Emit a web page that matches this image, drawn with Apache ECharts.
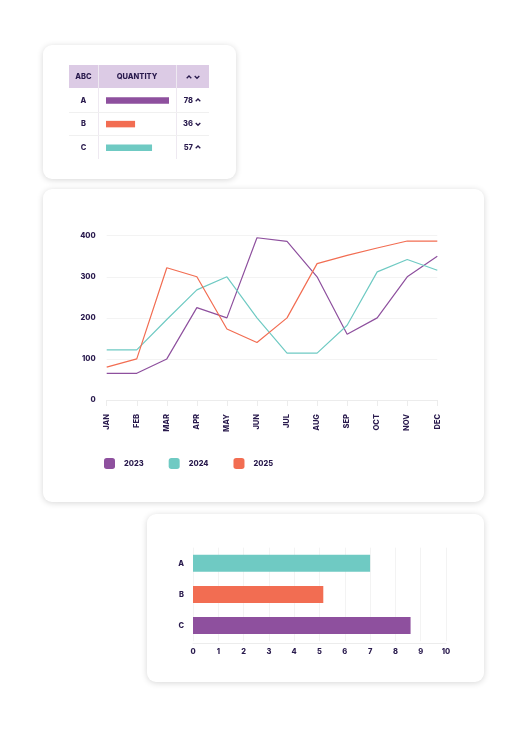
<!DOCTYPE html>
<html lang="en">
  <head>
    <meta charset="UTF-8" />
    <title>Dashboard</title>
    <script src="https://cdn.jsdelivr.net/npm/echarts@6/dist/echarts.min.js"></script>
    <style>
      body {
        margin: 0;
        background: #fff;
        font-family: Inter, "Noto Sans", sans-serif;
        color: #291a4d;
      }
      .card {
        position: absolute;
        background: #fff;
        border-radius: 9px;
        box-shadow: 0 1px 6px rgba(0, 0, 0, 0.16);
      }
      #main {
        position: absolute;
        left: 0;
        top: 0;
        width: 531px;
        height: 730px;
        z-index: 2;
      }
      .t {
        position: absolute;
        font-size: 7.5px;
        font-weight: 800;
        z-index: 3;
        line-height: 10px;
      }
      .ln {
        position: absolute;
        z-index: 1;
      }
      .chev {
        position: absolute;
        z-index: 3;
      }
    </style>
  </head>
  <body>
    <div class="card" style="left: 43px; top: 45px; width: 193px; height: 134px"></div>
    <div class="card" style="left: 43px; top: 189px; width: 441px; height: 313px"></div>
    <div class="card" style="left: 147px; top: 514px; width: 337px; height: 168px"></div>

    <!-- table skeleton -->
    <div class="ln" style="left: 69px; top: 65px; width: 140px; height: 23px; background: #dccbe5"></div>
    <div class="ln" style="left: 98px; top: 65px; width: 1px; height: 94px; background: #eee9f1"></div>
    <div class="ln" style="left: 176px; top: 65px; width: 1px; height: 94px; background: #eee9f1"></div>
    <div class="ln" style="left: 69px; top: 112px; width: 140px; height: 1px; background: #f0f0f0"></div>
    <div class="ln" style="left: 69px; top: 135px; width: 140px; height: 1px; background: #f0f0f0"></div>
    <div id="tbl"></div>

    <div id="main"></div>
    <script>
      // table card
      var tableRows = ["A", "B", "C"];
      var tableValues = [78, 36, 57];
      var tableTrend = ["up", "down", "up"];
      var tableHead = ["ABC", "QUANTITY"];

      // line chart
      var months = ["JAN", "FEB", "MAR", "APR", "MAY", "JUN", "JUL", "AUG", "SEP", "OCT", "NOV", "DEC"];
      var s2023 = [65, 65, 100, 225, 200, 395, 386, 300, 160, 200, 300, 350];
      var s2024 = [122, 122, 196, 268, 300, 200, 114, 114, 182, 312, 342, 316];
      var s2025 = [80, 100, 322, 300, 173, 140, 200, 332, 352, 370, 387, 387];

      // bar chart
      var barCats = ["A", "B", "C"];
      var barValues = [7, 5.15, 8.6];

      var purple = "#8e509e";
      var teal = "#6fcac3";
      var orange = "#f26d52";
      var ink = "#291a4d";

      function chev(x, y, dir) {
        var pts = dir == "up" ? "0.7,3.3 3,1 5.3,3.3" : "0.7,1 3,3.3 5.3,1";
        return (
          '<svg class="chev" style="left:' + x + "px;top:" + y + 'px" width="6" height="5"><polyline points="' +
          pts + '" fill="none" stroke="' + ink + '" stroke-width="1.3"/></svg>'
        );
      }

      var html = "";
      html += '<div class="t" style="left:69px;width:29px;top:72px;text-align:center">' + tableHead[0] + "</div>";
      html += '<div class="t" style="left:98px;width:78px;top:72px;text-align:center">' + tableHead[1] + "</div>";
      html += chev(186, 74.5, "up") + chev(194, 74.5, "down");
      for (var i = 0; i < tableRows.length; i++) {
        var cy = 100.5 + i * 23.6;
        html += '<div class="t" style="left:69px;width:29px;top:' + (cy - 5) + 'px;text-align:center">' + tableRows[i] + "</div>";
        html += '<div class="t" style="left:178px;width:15px;top:' + (cy - 5) + 'px;text-align:right">' + tableValues[i] + "</div>";
        html += chev(195, cy - 2.5, tableTrend[i]);
      }
      document.getElementById("tbl").innerHTML = html;

      var chartDom = document.getElementById("main");
      var myChart = echarts.init(chartDom);
      var lbl = { color: ink, fontSize: 7.5, fontWeight: 800, fontFamily: "Inter" };

      var option = {
        animation: false,
        grid: [
          { left: 106, top: 88.7, width: 63, height: 70.8 },
          { left: 106.7, top: 235.7, width: 330.6, height: 164.3 },
          { left: 193, top: 547.7, width: 253, height: 93.5 },
        ],
        legend: {
          data: ["2023", "2024", "2025"],
          left: 104,
          top: 458,
          padding: 0,
          itemWidth: 11,
          itemHeight: 11,
          itemGap: 25,
          icon: "roundRect",
          textStyle: Object.assign({ padding: [0, 0, 0, 4] }, lbl),
        },
        xAxis: [
          { gridIndex: 0, type: "value", min: 0, max: 78, show: false },
          {
            gridIndex: 1,
            type: "category",
            boundaryGap: false,
            data: months,
            axisLine: { lineStyle: { color: "#ececec" } },
            axisTick: { show: true, length: 6, lineStyle: { color: "#ececec" } },
            axisLabel: Object.assign({ rotate: 90, margin: 14, interval: 0 }, lbl),
            splitLine: { show: false },
          },
          {
            gridIndex: 2,
            type: "value",
            min: 0,
            max: 10,
            interval: 1,
            offset: 2,
            axisLine: { show: true, lineStyle: { color: "#ececec" } },
            axisTick: { show: false },
            axisLabel: Object.assign({ margin: 5 }, lbl),
            splitLine: { lineStyle: { color: "#f3f3f3" } },
          },
        ],
        yAxis: [
          { gridIndex: 0, type: "category", data: tableRows, inverse: true, show: false },
          {
            gridIndex: 1,
            type: "value",
            min: 0,
            max: 400,
            interval: 100,
            axisLine: { show: false },
            axisTick: { show: false },
            axisLabel: Object.assign({ margin: 11, padding: [0, 0, 5, 0] }, lbl),
            splitLine: { lineStyle: { color: "#f3f3f3" } },
          },
          {
            gridIndex: 2,
            type: "category",
            data: barCats,
            inverse: true,
            axisLine: { show: false },
            axisTick: { show: false },
            axisLabel: Object.assign({ margin: 9 }, lbl),
          },
        ],
        series: [
          {
            type: "bar",
            xAxisIndex: 0,
            yAxisIndex: 0,
            barWidth: 6.5,
            data: tableValues.map(function (v, i) {
              return { value: v, itemStyle: { color: [purple, orange, teal][i] } };
            }),
          },
          {
            name: "2023",
            type: "line",
            xAxisIndex: 1,
            yAxisIndex: 1,
            data: s2023,
            showSymbol: false,
            color: purple,
            lineStyle: { width: 1.2 },
          },
          {
            name: "2024",
            type: "line",
            xAxisIndex: 1,
            yAxisIndex: 1,
            data: s2024,
            showSymbol: false,
            color: teal,
            lineStyle: { width: 1.2 },
          },
          {
            name: "2025",
            type: "line",
            xAxisIndex: 1,
            yAxisIndex: 1,
            data: s2025,
            showSymbol: false,
            color: orange,
            lineStyle: { width: 1.2 },
          },
          {
            type: "bar",
            xAxisIndex: 2,
            yAxisIndex: 2,
            barWidth: 17,
            data: barValues.map(function (v, i) {
              return { value: v, itemStyle: { color: [teal, orange, purple][i] } };
            }),
          },
        ],
      };
      option && myChart.setOption(option);
    </script>
  </body>
</html>
